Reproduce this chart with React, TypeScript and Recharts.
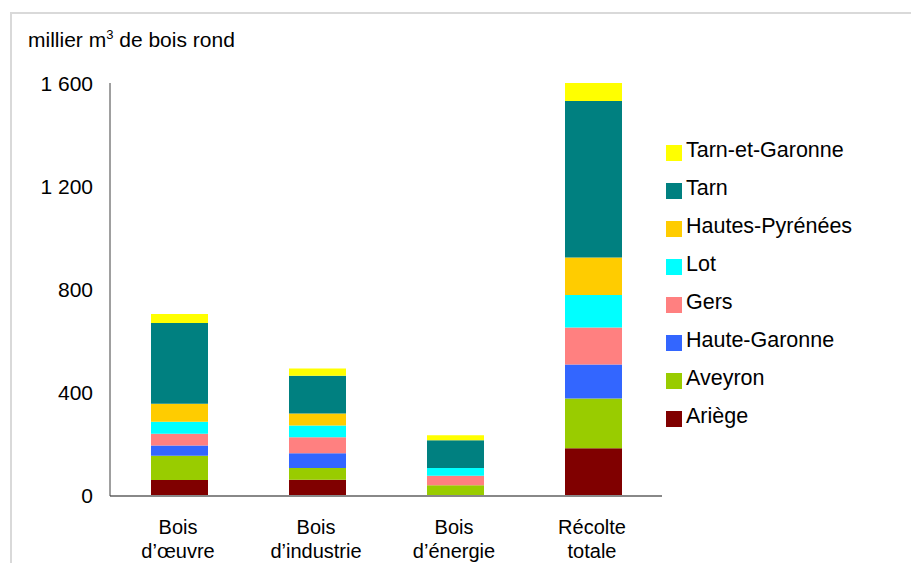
import React from "react";
import { BarChart, Bar, XAxis, YAxis } from "recharts";

const categories = ["Bois|d’œuvre", "Bois|d’industrie", "Bois|d’énergie", "Récolte|totale"];

const ariege = [62, 63, 0, 185];
const aveyron = [94, 46, 42, 194];
const hauteGaronne = [40, 57, 0, 132];
const gers = [46, 62, 37, 143];
const lot = [46, 46, 30, 127];
const hautesPyrenees = [70, 46, 0, 145];
const tarn = [314, 147, 108, 608];
const tarnEtGaronne = [35, 28, 19, 70];

const yTicks = [0, 400, 800, 1200, 1600];

// bottom of the stack first
const series = [
  { key: "ariege", name: "Ariège", color: "#800000", values: ariege },
  { key: "aveyron", name: "Aveyron", color: "#99cc00", values: aveyron },
  { key: "hauteGaronne", name: "Haute-Garonne", color: "#3366ff", values: hauteGaronne },
  { key: "gers", name: "Gers", color: "#ff8080", values: gers },
  { key: "lot", name: "Lot", color: "#00ffff", values: lot },
  { key: "hautesPyrenees", name: "Hautes-Pyrénées", color: "#ffcc00", values: hautesPyrenees },
  { key: "tarn", name: "Tarn", color: "#008080", values: tarn },
  { key: "tarnEtGaronne", name: "Tarn-et-Garonne", color: "#ffff00", values: tarnEtGaronne },
];

const data = categories.map((cat, i) => {
  const row: Record<string, string | number> = { cat };
  series.forEach((s) => (row[s.key] = s.values[i]));
  return row;
});

const FONT = "'Liberation Sans', Arial, sans-serif";

const fmt = (v: number) => String(v).replace(/\B(?=(\d{3})+(?!\d))/g, " ");

const CatTick = (props: any) => {
  const { x, y, payload } = props;
  const [a, b] = String(payload.value).split("|");
  return (
    <text x={x - 1} y={y} textAnchor="middle" fill="#000" fontSize={20} fontFamily={FONT}>
      <tspan x={x - 1} dy={36}>{a}</tspan>
      <tspan x={x - 1} dy={24}>{b}</tspan>
    </text>
  );
};

export default function App() {
  const legendItems = [...series].reverse();
  return (
    <div
      style={{
        position: "absolute",
        left: 0,
        top: 0,
        width: 911,
        height: 563,
        overflow: "hidden",
        background: "#fff",
        fontFamily: FONT,
      }}
    >
      <div
        style={{
          position: "absolute",
          left: 10,
          top: 12,
          width: 950,
          height: 600,
          borderLeft: "2px solid #d9d9d9",
          borderTop: "2px solid #d9d9d9",
        }}
      />
      <div style={{ position: "absolute", left: 28, top: 30, fontSize: 21, lineHeight: "20px", color: "#000" }}>
        millier m<sup style={{ fontSize: 13, lineHeight: 0 }}>3</sup> de bois rond
      </div>
      <div style={{ position: "absolute", left: 0, top: 0 }}>
        <BarChart
          width={911}
          height={563}
          data={data}
          margin={{ top: 83, right: 249, left: 0, bottom: 7 }}
          barSize={57}
        >
          <XAxis
            dataKey="cat"
            height={60}
            tickLine={false}
            tickSize={0}
            axisLine={{ stroke: "#888888", strokeWidth: 2 }}
            tick={<CatTick />}
            interval={0}
          />
          <YAxis
            width={110}
            domain={[0, 1600]}
            ticks={yTicks}
            tickFormatter={fmt}
            tickLine={false}
            tickSize={0}
            tickMargin={17}
            axisLine={{ stroke: "#404040", strokeWidth: 1 }}
            tick={{ fill: "#000", fontSize: 21, fontFamily: FONT }}
          />
          {series.map((s) => (
            <Bar key={s.key} dataKey={s.key} name={s.name} stackId="a" fill={s.color} isAnimationActive={false} />
          ))}
        </BarChart>
      </div>
      {legendItems.map((s, i) => (
        <div
          key={s.key}
          style={{
            position: "absolute",
            left: 666,
            top: 145 + 38 * i,
            height: 16,
            display: "flex",
            alignItems: "center",
            whiteSpace: "nowrap",
          }}
        >
          <div style={{ width: 16, height: 16, background: s.color }} />
          <span style={{ marginLeft: 4, fontSize: 21.5, lineHeight: "16px", position: "relative", top: -3, color: "#000" }}>
            {s.name}
          </span>
        </div>
      ))}
    </div>
  );
}
